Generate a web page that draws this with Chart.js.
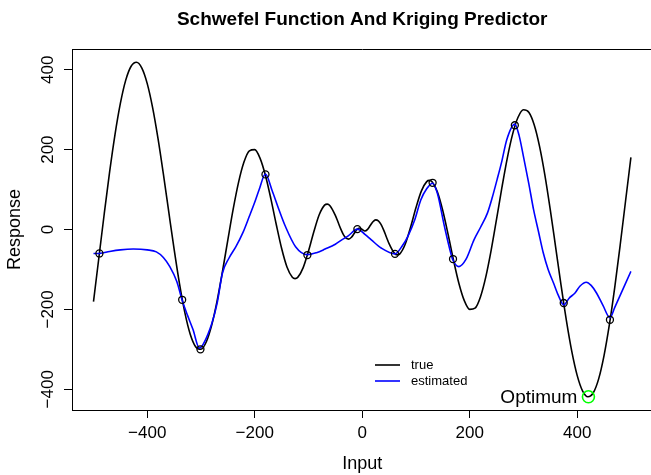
<!DOCTYPE html>
<html>
<head>
<meta charset="utf-8">
<title>Schwefel Function And Kriging Predictor</title>
<script src="https://cdn.jsdelivr.net/npm/chart.js@4/dist/chart.umd.min.js"></script>
<style>
  html, body { margin: 0; padding: 0; overflow: hidden; background: #fff; }
  #wrap { width: 660px; height: 475px; }
</style>
</head>
<body>
<div id="wrap"><canvas id="chart" width="660" height="475"></canvas></div>
<script>
// true Schwefel curve (black)
const trueX = [-500, -490, -480, -470, -460, -450, -440, -430, -420, -410, -400, -390, -380, -370, -360,
  -350, -340, -330, -320, -310, -300, -290, -280, -270, -260, -250, -240, -230, -220, -210, -200,
  -190, -180, -170, -160, -150, -140, -130, -125, -120, -110, -100, -90, -80, -70, -65, -60, -50,
  -45, -40, -35, -30, -25, -20, -15, -10, -5, 0, 5, 10, 15, 20, 25, 30, 35, 40, 45, 50, 60, 65, 70,
  80, 90, 100, 110, 120, 125, 130, 140, 150, 160, 170, 180, 190, 200, 210, 220, 230, 240, 250, 260,
  270, 280, 290, 300, 310, 320, 330, 340, 350, 360, 370, 380, 390, 400, 410, 420, 430, 440, 450,
  460, 470, 480, 490, 500];
const trueY = [-180.6, -70.7, 39.5, 144.2, 237.8, 315.7, 374.0, 408.8, 418.8, 404.0, 365.2, 305.2, 228.1, 139.2, 44.6,
  -49.3, -135.7, -208.2, -262.3, -293.5, -299.8, -281.0, -239.4, -178.8, -105.2, -25.8, 51.5, 118.6, 168.8, 196.9, 200.0,
  178.2, 135.2, 77.3, 13.2, -47.0, -93.8, -119.4, -122.9, -119.9, -96.1, -54.4, -5.6, 37.0, 61.0, 63.6, 59.7, 35.4,
  18.6, 1.7, -12.6, -21.7, -24.0, -19.4, -10.0, -0.2, 3.9, 0, -3.9, 0.2, 10.0, 19.4, 24.0, 21.7, 12.6, -1.7, -18.6, -35.4, -59.7, -63.6, -61.0,
  -37.0, 5.6, 54.4, 96.1, 119.9, 122.9, 119.4, 93.8, 47.0, -13.2, -77.3, -135.2, -178.2, -200.0, -196.9, -168.8, -118.6, -51.5, 25.8, 105.2,
  178.8, 239.4, 281.0, 299.8, 293.5, 262.3, 208.2, 135.7, 49.3, -44.6, -139.2, -228.1, -305.2, -365.2, -404.0, -418.8, -408.8, -374.0, -315.7,
  -237.8, -144.2, -39.5, 70.7, 180.6];

// kriging predictor (blue)
const estX = [-500, -489, -470, -450, -426, -400, -383, -370, -358, -345, -335, -325, -315, -303, -295,
  -280, -270, -260, -248, -235, -222, -210, -200, -192, -180, -168, -155, -143, -124, -102, -85, -69,
  -50, -38, -26, -9, 5, 17, 36, 61, 75, 85, 98, 109, 120, 131, 140, 153, 165, 169, 180, 193, 208,
  220, 233, 242, 251, 260, 269, 284, 292, 300, 310, 319, 328, 337, 346, 356, 365, 375, 385, 396,
  405, 417, 426, 436, 448, 461, 470, 480, 490, 500];
const estY = [-60, -60, -55, -51, -49, -51, -56, -70, -93, -130, -177, -215, -250, -297, -285,
  -236, -185, -109, -72, -43, -8, 33, 68, 99, 139, 99, 50, 8, -43, -63, -58, -49,
  -37, -26, -16, 1, -12, -26, -47, -61, -40, -17, 25, 74, 102, 116, 90, 8, -60, -77, -93, -75, -26,
  5, 41, 80, 125, 172, 225, 264, 235, 183, 115, 49, -5, -59, -100, -134, -165, -189, -172, -159,
  -142, -132, -140, -159, -190, -221, -195, -165, -135, -105];

// design points (circles)
const sampleX = [-489, -335, -301, -180, -102, -9, 61, 131, 169, 284, 375, 461];
const sampleY = [-60, -176, -300, 138, -64, 1, -61, 117, -74, 261, -184, -226];

const optimum = [420.97, -418.98];
const xTicks = [-400, -200, 0, 200, 400];
const yTicks = [-400, -200, 0, 200, 400];

const FONT = '"Liberation Sans", Arial, Helvetica, sans-serif';
const lab = v => v < 0 ? '\u2212' + (-v) : String(v);
const pts = (xs, ys) => xs.map((x, i) => ({ x: x, y: ys[i] }));

// bits R draws that chart.js doesn't: rotated y labels, box, title, legend
const decor = {
  id: 'decor',
  afterDraw(chart) {
    const { ctx, chartArea: a, scales: { x, y } } = chart;
    ctx.save();
    ctx.strokeStyle = '#000';
    ctx.lineWidth = 1;
    ctx.beginPath();
    ctx.moveTo(a.left, Math.round(a.top) + 0.5);
    ctx.lineTo(a.right + 0.5, Math.round(a.top) + 0.5);
    ctx.lineTo(a.right + 0.5, a.bottom);
    ctx.stroke();

    ctx.fillStyle = '#000';
    ctx.font = '17px ' + FONT;
    ctx.textAlign = 'center';
    ctx.textBaseline = 'alphabetic';
    yTicks.forEach(v => {
      ctx.save();
      ctx.translate(a.left - 19, y.getPixelForValue(v));
      ctx.rotate(-Math.PI / 2);
      ctx.fillText(lab(v), 0, 0);
      ctx.restore();
    });

    ctx.save();
    ctx.font = '18px ' + FONT;
    ctx.translate(20, (a.top + a.bottom) / 2);
    ctx.rotate(-Math.PI / 2);
    ctx.fillText('Response', 0, 0);
    ctx.restore();

    ctx.font = 'bold 19px ' + FONT;
    ctx.textBaseline = 'middle';
    ctx.fillText('Schwefel Function And Kriging Predictor', (a.left + a.right) / 2, 20);

    // legend
    const lx = 375, ly = 365;
    ctx.lineWidth = 1.6;
    ctx.strokeStyle = '#000';
    ctx.beginPath(); ctx.moveTo(lx, ly); ctx.lineTo(lx + 25, ly); ctx.stroke();
    ctx.strokeStyle = '#0000ff';
    ctx.beginPath(); ctx.moveTo(lx, ly + 16); ctx.lineTo(lx + 25, ly + 16); ctx.stroke();
    ctx.font = '13px ' + FONT;
    ctx.textAlign = 'left';
    ctx.fillText('true', lx + 36, ly);
    ctx.fillText('estimated', lx + 36, ly + 16);

    // optimum label
    ctx.font = '19px ' + FONT;
    ctx.textAlign = 'right';
    ctx.fillText('Optimum', x.getPixelForValue(optimum[0]) - 11, y.getPixelForValue(optimum[1]) + 1);
    ctx.restore();
  }
};

new Chart(document.getElementById('chart'), {
  type: 'line',
  data: {
    datasets: [
      {
        label: 'design',
        data: pts(sampleX, sampleY),
        showLine: false,
        pointRadius: 3.5,
        pointBorderWidth: 1.3,
        pointBorderColor: '#000',
        pointBackgroundColor: 'rgba(0,0,0,0)',
        order: 0
      },
      {
        label: 'optimum',
        data: [{ x: optimum[0], y: optimum[1] }],
        showLine: false,
        pointRadius: 6,
        pointBorderWidth: 1.6,
        pointBorderColor: '#00ff00',
        pointBackgroundColor: 'rgba(0,0,0,0)',
        order: 1
      },
      {
        label: 'estimated',
        data: pts(estX, estY),
        borderColor: '#0000ff',
        borderWidth: 1.6,
        pointRadius: 0,
        cubicInterpolationMode: 'monotone',
        order: 2
      },
      {
        label: 'true',
        data: pts(trueX, trueY),
        borderColor: '#000',
        borderWidth: 1.6,
        pointRadius: 0,
        cubicInterpolationMode: 'monotone',
        order: 3
      }
    ]
  },
  options: {
    responsive: false,
    animation: false,
    devicePixelRatio: 1,
    layout: { padding: { left: 0, top: 49, right: 4, bottom: 0 } },
    plugins: { legend: { display: false }, tooltip: { enabled: false } },
    scales: {
      x: {
        type: 'linear',
        min: -540,
        max: 540,
        afterBuildTicks: s => { s.ticks = xTicks.map(v => ({ value: v })); },
        afterFit: s => { s.height = 65; },
        grid: { drawOnChartArea: false, tickLength: 8, color: '#000' },
        border: { color: '#000', width: 1 },
        ticks: {
          color: '#000',
          font: { family: FONT, size: 17 },
          padding: 5,
          maxRotation: 0,
          callback: v => lab(v)
        },
        title: {
          display: true,
          text: 'Input',
          color: '#000',
          font: { family: FONT, size: 18 },
          padding: { top: 0, bottom: 0 }
        }
      },
      y: {
        type: 'linear',
        min: -452,
        max: 452,
        afterBuildTicks: s => { s.ticks = yTicks.map(v => ({ value: v })); },
        afterFit: s => { s.width = 72; },
        grid: { drawOnChartArea: false, tickLength: 8, color: '#000' },
        border: { color: '#000', width: 1 },
        ticks: { display: false }
      }
    }
  },
  plugins: [decor]
});
</script>
</body>
</html>
